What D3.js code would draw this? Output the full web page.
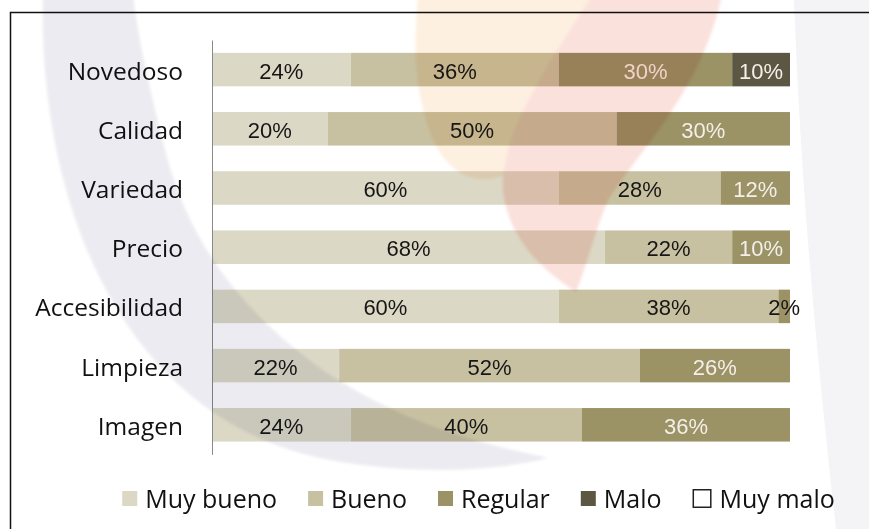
<!DOCTYPE html>
<html>
<head>
<meta charset="utf-8">
<script src="https://cdn.jsdelivr.net/npm/d3@7"></script>
<style>
  html, body { margin: 0; padding: 0; background: #ffffff; }
  svg { display: block; }
</style>
</head>
<body>
<svg id="chart" width="869" height="529"></svg>
<script>
// Survey ratings per attribute (percent of respondents)
const categories = ["Novedoso", "Calidad", "Variedad", "Precio", "Accesibilidad", "Limpieza", "Imagen"];
const seriesNames = ["Muy bueno", "Bueno", "Regular", "Malo", "Muy malo"];
const muyBueno = [24, 20, 60, 68, 60, 22, 24];
const bueno    = [36, 50, 28, 22, 38, 52, 40];
const regular  = [30, 30, 12, 10, 2, 26, 36];
const malo     = [10, 0, 0, 0, 0, 0, 0];
const muyMalo  = [0, 0, 0, 0, 0, 0, 0];

const seriesValues = [muyBueno, bueno, regular, malo, muyMalo];
const colors = ["#dcd8c6", "#c8c1a1", "#9b9266", "#5b5742", "#ffffff"];
const labelColors = ["#161616", "#161616", "#f4efe8", "#f4efe8", "#161616"];

const rows = categories.map((c, i) => {
  const r = { category: c };
  seriesNames.forEach((s, k) => { r[s] = seriesValues[k][i]; });
  return r;
});
const stacked = d3.stack().keys(seriesNames)(rows);

const svg = d3.select("#chart");
const W = 869, H = 529;

// soft grey panel on the far right
svg.append("path")
  .attr("d", "M794,0 L869,0 L869,529 L836,529 C822,400 802,220 794,0 Z")
  .attr("fill", "#f4f4f7");

// outer frame
svg.append("path")
  .attr("d", `M10.5,${H + 2} L10.5,12.5 L${W + 2},12.5`)
  .attr("fill", "none")
  .attr("stroke", "#111")
  .attr("stroke-width", 1.5);

const x = d3.scaleLinear().domain([0, 100]).range([212, 790]);
const y = d3.scaleBand().domain(categories).range([40, 454.4])
  .paddingInner(0.434).paddingOuter(0.217);

// bars
const layers = svg.append("g").selectAll("g")
  .data(stacked)
  .join("g")
  .attr("fill", (d, i) => colors[i]);

layers.selectAll("rect")
  .data(d => d.map(p => ({ p, key: d.key })))
  .join("rect")
  .attr("x", d => x(d.p[0]))
  .attr("y", d => y(d.p.data.category))
  .attr("width", d => x(d.p[1]) - x(d.p[0]))
  .attr("height", y.bandwidth());

// value labels (narrow segments get dark text, since it spills past the bar)
stacked.forEach((layer, k) => {
  svg.append("g").selectAll("text")
    .data(layer.filter(p => p[1] - p[0] > 0))
    .join("text")
    .attr("x", p => (x(p[0]) + x(p[1])) / 2)
    .attr("y", p => y(p.data.category) + y.bandwidth() / 2 + 9)
    .attr("text-anchor", "middle")
    .attr("font-family", "'Liberation Sans', Arial, sans-serif")
    .attr("font-size", 22)
    .attr("fill", p => (p[1] - p[0] < 5 ? "#161616" : labelColors[k]))
    .text(p => `${p[1] - p[0]}%`);
});

// category axis
const yAxis = svg.append("g")
  .attr("transform", "translate(212,0)")
  .call(d3.axisLeft(y).tickSize(0).tickPadding(29));
yAxis.select(".domain").attr("stroke", "#8a8a8a").attr("stroke-width", 1);
yAxis.selectAll("text")
  .attr("font-family", "'Open Sans', sans-serif")
  .attr("font-size", 24.5)
  .attr("fill", "#111")
  .attr("dy", null)
  .attr("y", 10);

// legend
const legend = svg.append("g");
let lx = 0;
seriesNames.forEach((name, i) => {
  const item = legend.append("g").attr("transform", `translate(${lx},0)`);
  item.append("rect")
    .attr("x", i === 4 ? 0.75 : 0).attr("y", i === 4 ? -8.75 : -7.5)
    .attr("width", i === 4 ? 17.5 : 15).attr("height", i === 4 ? 17.5 : 15)
    .attr("fill", colors[i])
    .attr("stroke", i === 4 ? "#222" : "none")
    .attr("stroke-width", 1.5);
  const t = item.append("text")
    .attr("x", i === 4 ? 27 : 23)
    .attr("y", 9)
    .attr("font-family", "'Open Sans', sans-serif")
    .attr("font-size", 25)
    .attr("fill", "#111")
    .text(name);
  lx += (i === 4 ? 27 : 23) + t.node().getComputedTextLength() + 31;
});
const legendWidth = lx - 31;
legend.attr("transform", `translate(${478.5 - legendWidth / 2},498.5)`);

// faint background emblem blended over the chart
const defs = svg.append("defs");
defs.append("filter").attr("id", "soft")
  .append("feGaussianBlur").attr("stdDeviation", 1.5);
const emblem = svg.append("g")
  .style("mix-blend-mode", "multiply")
  .attr("filter", "url(#soft)");

emblem.append("path")
  .attr("d", "M43,-5 C38,200 120,420 330,460 C420,476 500,470 548,458 C470,442 400,420 330,375 C250,320 190,250 165,150 C150,90 138,40 133,-5 Z")
  .attr("fill", "#ebebf1");
emblem.append("path")
  .attr("d", "M418,-5 L605,-5 C592,60 560,120 512,172 C472,192 440,170 426,120 C414,80 414,40 418,-5 Z")
  .attr("fill", "#fdf0e0");
emblem.append("path")
  .attr("d", "M592,-5 L722,-5 C702,90 640,150 608,200 C592,240 586,268 576,292 C545,272 508,240 503,190 C500,130 552,60 592,-5 Z")
  .attr("fill", "#fbe1dc");
</script>
</body>
</html>
